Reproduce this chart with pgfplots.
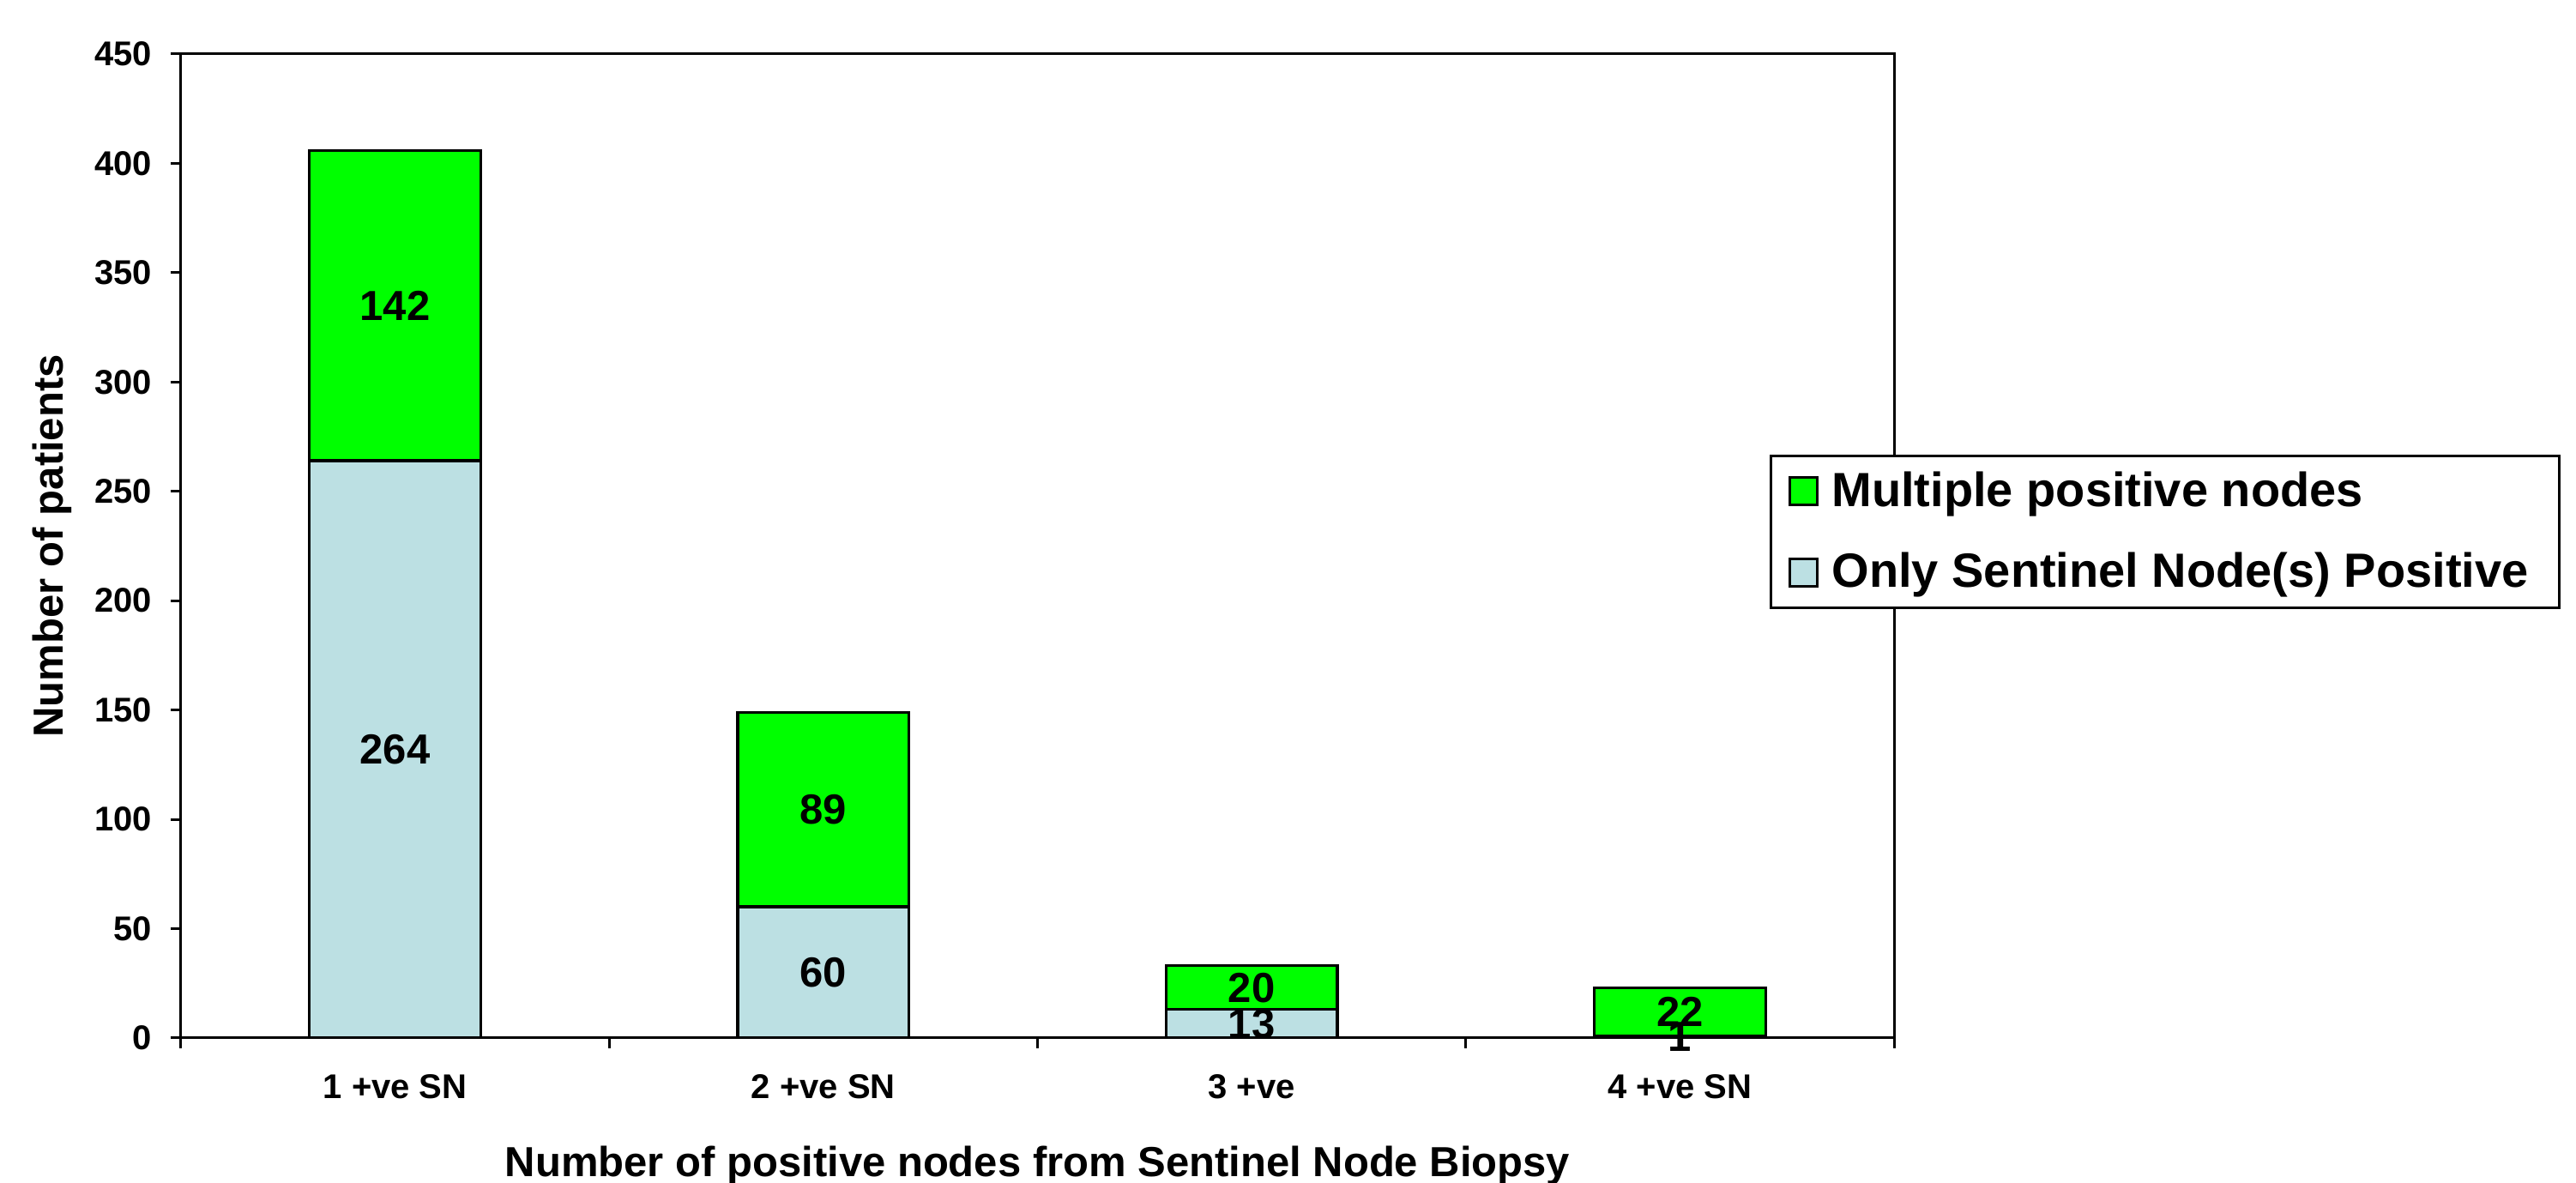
\documentclass[border=0pt]{standalone}
\usepackage{pgfplots}
\pgfplotsset{compat=1.18}
\usepackage{fontspec}
\setmainfont{Liberation Sans}

\definecolor{sngreen}{RGB}{0,255,0}
\definecolor{snblue}{RGB}{188,224,227}

\pgfplotsset{
    sqlegend/.style={
        legend image code/.code={\draw[##1,/tikz/.cd,draw=black,line width=0.75pt] (0pt,-4pt) rectangle (8pt,4pt);}
    }
}

\begin{document}
\begin{tikzpicture}
\begin{axis}[
    at={(0,0)}, anchor=south west,
    scale only axis,
    width=499.25pt, height=286.75pt,
    ybar stacked,
    bar width=0.4,
    xmin=0, xmax=4,
    ymin=0, ymax=450,
    enlarge x limits=false,
    enlarge y limits=false,
    xtick={0,1,2,3,4},
    x tick label as interval,
    xticklabels={1 +ve SN, 2 +ve SN, 3 +ve, 4 +ve SN},
    ytick distance=50,
    tick align=outside,
    xtick pos=bottom, ytick pos=left,
    major tick length=3pt,
    axis line style={line width=0.75pt},
    every tick/.style={black, line width=0.75pt},
    /pgf/number format/assume math mode=true,
    yticklabel style={font=\fontsize{10}{12}\selectfont\bfseries, xshift=-2pt},
    xticklabel style={font=\fontsize{10}{12}\selectfont\bfseries, yshift=-4pt},
    xlabel={Number of positive nodes from Sentinel Node Biopsy},
    ylabel={Number of patients},
    every axis x label/.style={at={(axis description cs:0.5,-0.14124)}, anchor=base,
        font=\fontsize{12.25}{14}\selectfont\bfseries},
    every axis y label/.style={at={(axis description cs:-0.07511,0.5)}, rotate=90, anchor=center,
        font=\fontsize{12.25}{14}\selectfont\bfseries},
    nodes near coords,
    every node near coord/.append style={anchor=center,
        font=\fontsize{12.25}{14}\selectfont\bfseries, text=black},
    reverse legend,
    legend cell align=left,
    legend style={at={(0.9274,0.5929)}, anchor=north west, draw=black,
        line width=0.75pt, fill=white, font=\fontsize{14}{16}\selectfont\bfseries,
        row sep=8pt, inner xsep=5pt, inner ysep=2.5pt,
        nodes={inner xsep=4pt}},
]
\addplot[fill=snblue, draw=black, line width=0.8pt, sqlegend]
    coordinates {(0.5,264) (1.5,60) (2.5,13) (3.5,1)};
\addplot[fill=sngreen, draw=black, line width=0.8pt, sqlegend]
    coordinates {(0.5,142) (1.5,89) (2.5,20) (3.5,22)};
\legend{Only Sentinel Node(s) Positive, Multiple positive nodes}
\end{axis}
\pgfresetboundingbox
\useasboundingbox (-52.75pt,-42.25pt) rectangle (698pt,302.5pt);
\end{tikzpicture}
\end{document}
